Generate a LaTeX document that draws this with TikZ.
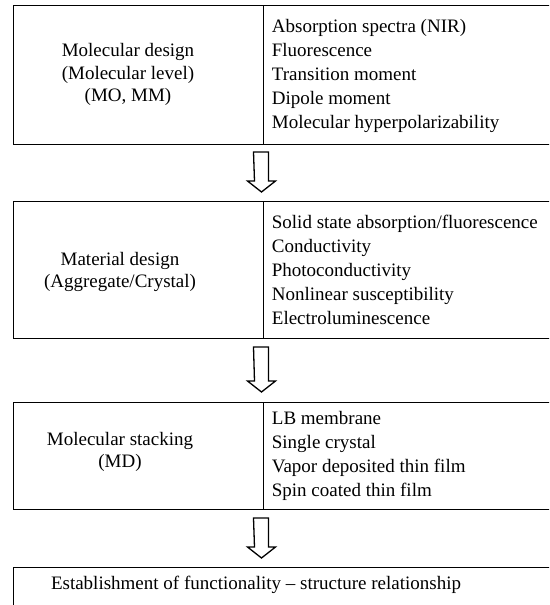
\documentclass[tikz,border=0pt]{standalone}
\usepackage{fontspec}
\setmainfont{Liberation Serif}
\begin{document}
\begin{tikzpicture}[x=1pt,y=-1pt,
  cell/.style={draw, line width=1.3pt, inner sep=0pt, anchor=north west},
  txt/.style={font=\fontsize{19}{24}\selectfont, inner sep=0pt},
  ltxt/.style={txt, align=center, font=\fontsize{19}{22.5}\selectfont},
  rtxt/.style={txt, align=left, anchor=west},
  blockarrow/.style={draw, line width=1.3pt, line join=miter}]
\useasboundingbox (0,0) rectangle (549,605);
\clip (0,0) rectangle (549,605);
% box 1
\node[cell, minimum width=250pt, minimum height=139pt] (l1) at (12.7,5) {};
\node[cell, minimum width=310pt, minimum height=139pt] (r1) at (262.7,5) {};
\node[ltxt] (lt1) at (128,74.5) {Molecular design\\(Molecular level)\\(MO, MM)};
\node[rtxt] (rt1) at (271.7,76) {Absorption spectra (NIR)\\Fluorescence\\Transition moment\\Dipole moment\\Molecular hyperpolarizability};
% arrow 1
\coordinate (a1) at (261,152);
\draw[blockarrow] (a1) ++(-7.5,0) -- ++(15,0) -- ++(0,29) -- ++(7,0) -- ++(-14,11) -- ++(-14,-11) -- ++(7,0) -- cycle;
% box 2
\node[cell, minimum width=250pt, minimum height=137pt] (l2) at (12.7,201) {};
\node[cell, minimum width=310pt, minimum height=137pt] (r2) at (262.7,201) {};
\node[ltxt] (lt2) at (120,272) {Material design\\(Aggregate/Crystal)};
\node[rtxt] (rt2) at (271.7,270) {Solid state absorption/fluorescence\\Conductivity\\Photoconductivity\\Nonlinear susceptibility\\Electroluminescence};
% arrow 2
\coordinate (a2) at (261,347);
\draw[blockarrow] (a2) ++(-7.5,0) -- ++(15,0) -- ++(0,34) -- ++(7,0) -- ++(-14,11) -- ++(-14,-11) -- ++(7,0) -- cycle;
% box 3
\node[cell, minimum width=250pt, minimum height=107pt] (l3) at (12.7,402) {};
\node[cell, minimum width=310pt, minimum height=107pt] (r3) at (262.7,402) {};
\node[ltxt] (lt3) at (120,452) {Molecular stacking\\(MD)};
\node[rtxt] (rt3) at (271.7,455.5) {LB membrane\\Single crystal\\Vapor deposited thin film\\Spin coated thin film};
% arrow 3
\coordinate (a3) at (261,518);
\draw[blockarrow] (a3) ++(-7.5,0) -- ++(15,0) -- ++(0,29) -- ++(7,0) -- ++(-14,11) -- ++(-14,-11) -- ++(7,0) -- cycle;
% box 4
\node[cell, minimum width=560pt, minimum height=60pt] (b4) at (12.7,567) {};
\node[txt] (t4) at (256,585) {Establishment of functionality -- structure relationship};
\end{tikzpicture}
\end{document}
